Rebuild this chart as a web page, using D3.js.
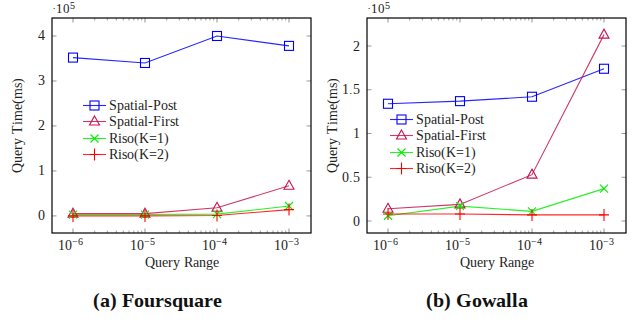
<!DOCTYPE html>
<html>
<head>
<meta charset="utf-8">
<script src="https://cdn.jsdelivr.net/npm/d3@7"></script>
<style>
  @font-face { font-family: "ChartSerif"; font-weight: 400; src: local("Liberation Serif"), local("LiberationSerif"), local("Liberation Serif Regular"), local("LiberationSerif-Regular"); }
  @font-face { font-family: "ChartSerif"; font-weight: 700; src: local("Liberation Serif Bold"), local("LiberationSerif-Bold"); }
  body { margin: 0; background: #fff; }
  .lbl { font-family: "ChartSerif", "Liberation Serif", "Times New Roman", serif; }
</style>
</head>
<body>
<svg id="chart" width="641" height="320"></svg>
<script>
// query ranges (x), shared by both panels
var ranges = [1e-6, 1e-5, 1e-4, 1e-3];
var seriesNames = ["Spatial-Post", "Spatial-First", "Riso(K=1)", "Riso(K=2)"];

// Foursquare, values in 10^5 ms
var fsqPost  = [3.52, 3.40, 4.00, 3.78];
var fsqFirst = [0.05, 0.05, 0.18, 0.67];
var fsqK1    = [0.03, 0.03, 0.04, 0.22];
var fsqK2    = [0.00, 0.00, 0.01, 0.14];
var fsqTicks = [0, 1, 2, 3, 4];

// Gowalla, values in 10^5 ms
var gwPost  = [1.34, 1.37, 1.42, 1.74];
var gwFirst = [0.14, 0.19, 0.53, 2.13];
var gwK1    = [0.06, 0.17, 0.11, 0.37];
var gwK2    = [0.08, 0.08, 0.07, 0.07];
var gwTicks = [0, 0.5, 1, 1.5, 2];

var colors = ["#0000ff", "#c8144e", "#00ee00", "#ff0000"];
var markers = ["square", "triangle", "cross", "plus"];

var svg = d3.select("#chart");

function drawMarker(g, type, color) {
  if (type == "square") {
    g.append("rect").attr("x", -4.5).attr("y", -4.5).attr("width", 9).attr("height", 9)
      .attr("fill", "none").attr("stroke", color).attr("stroke-width", 1.1);
  } else if (type == "triangle") {
    g.append("path").attr("d", "M0,-5.5L5,3.5L-5,3.5Z")
      .attr("fill", "none").attr("stroke", color).attr("stroke-width", 1.1);
  } else if (type == "cross") {
    g.append("path").attr("d", "M-4,-4L4,4M-4,4L4,-4")
      .attr("stroke", color).attr("stroke-width", 1.1);
  } else {
    g.append("path").attr("d", "M-5,0L5,0M0,-6L0,6")
      .attr("stroke", color).attr("stroke-width", 1.1);
  }
}

function label(sel, size) {
  return sel.attr("class", "lbl").style("font-size", size + "px").attr("fill", "#222");
}

function drawPanel(opt) {
  var g = svg.append("g");
  var x = d3.scaleLog()
    .domain([1e-6 / Math.pow(10, 21 / 72), 1e-3 * Math.pow(10, 22 / 72)])
    .range([opt.left, opt.right]);
  var y = d3.scaleLinear().domain(opt.ydomain).range([opt.bottom, opt.top]);

  // minor log ticks between the decades
  var minor = [];
  for (var e = -6; e < -3; e++) {
    for (var m = 2; m <= 9; m++) minor.push(m * Math.pow(10, e));
  }
  g.selectAll(".minor").data(minor).enter().append("path")
    .attr("d", function(d) {
      var px = x(d);
      return "M" + px + "," + opt.bottom + "v-2.5M" + px + "," + opt.top + "v2.5";
    })
    .attr("stroke", "#777").attr("stroke-width", 0.7);

  g.selectAll(".major").data(ranges).enter().append("path")
    .attr("d", function(d) {
      var px = x(d);
      return "M" + px + "," + opt.bottom + "v-4.5M" + px + "," + opt.top + "v4.5";
    })
    .attr("stroke", "#777").attr("stroke-width", 0.8);

  g.selectAll(".yt").data(opt.yticks).enter().append("path")
    .attr("d", function(d) {
      var py = y(d);
      return "M" + opt.left + "," + py + "h4.5M" + opt.right + "," + py + "h-4.5";
    })
    .attr("stroke", "#999").attr("stroke-width", 1);

  // x tick labels
  var xl = label(g.selectAll(".xl").data(ranges).enter().append("text"), 14)
    .attr("x", function(d) { return x(d) - 3; })
    .attr("y", opt.bottom + 17)
    .attr("text-anchor", "middle");
  xl.append("tspan").text("10");
  xl.append("tspan").attr("dy", -5).style("font-size", "10px")
    .text(function(d) { return "\u2212" + Math.round(-Math.log10(d)); });

  // y tick labels
  label(g.selectAll(".yl").data(opt.yticks).enter().append("text"), 14)
    .attr("x", opt.left - 7)
    .attr("y", function(d) { return y(d) + 4.5; })
    .attr("text-anchor", "end")
    .text(function(d) { return d; });

  // scale factor
  var sf = label(g.append("text"), 13).attr("x", opt.left).attr("y", 13);
  sf.append("tspan").text("\u00b710");
  sf.append("tspan").attr("dy", -4).style("font-size", "10px").text("5");

  // series
  var line = d3.line()
    .x(function(d, i) { return x(ranges[i]); })
    .y(function(d) { return y(d); });

  opt.series.forEach(function(vals, k) {
    g.append("path").datum(vals).attr("d", line)
      .attr("fill", "none").attr("stroke", colors[k]).attr("stroke-width", 1.1)
      .attr("stroke-opacity", 0.85);
  });
  opt.series.forEach(function(vals, k) {
    g.selectAll(".m" + k).data(vals).enter().append("g")
      .attr("transform", function(d, i) { return "translate(" + x(ranges[i]) + "," + y(d) + ")"; })
      .each(function() { drawMarker(d3.select(this), markers[k], colors[k]); });
  });

  // frame
  g.append("rect").attr("x", opt.left).attr("y", opt.top)
    .attr("width", opt.right - opt.left).attr("height", opt.bottom - opt.top)
    .attr("fill", "none").attr("stroke", "#000").attr("stroke-width", 1.2);

  // legend
  var lg = g.selectAll(".lg").data(seriesNames).enter().append("g")
    .attr("transform", function(d, i) { return "translate(" + opt.legX + "," + Math.round(opt.legY + i * 16.3) + ")"; });
  lg.append("path").attr("d", "M0,0.5h23")
    .attr("stroke", function(d, i) { return colors[i]; })
    .attr("stroke-width", 1.1).attr("stroke-opacity", 0.85);
  lg.each(function(d, i) {
    var m = d3.select(this).append("g").attr("transform", "translate(11.5,0.5)");
    drawMarker(m, markers[i], colors[i]);
  });
  label(lg.append("text"), 14).attr("x", 26).attr("y", 5)
    .text(function(d) { return d; });

  // axis titles
  label(g.append("text"), 14)
    .attr("transform", "translate(" + opt.ylabX + "," + ((opt.top + opt.bottom) / 2) + ") rotate(-90)")
    .attr("text-anchor", "middle")
    .text("Query Time(ms)");
  label(g.append("text"), 14)
    .attr("x", (opt.left + opt.right) / 2).attr("y", opt.bottom + 34)
    .attr("text-anchor", "middle")
    .text("Query Range");

  // caption
  label(g.append("text"), 20).attr("x", opt.capX).attr("y", 307)
    .attr("text-anchor", "middle")
    .style("font-weight", "700")
    .attr("fill", "#111")
    .text(opt.caption);
}

drawPanel({
  left: 52, right: 311, top: 18, bottom: 233,
  ydomain: [-0.38, 4.4], yticks: fsqTicks,
  series: [fsqPost, fsqFirst, fsqK1, fsqK2],
  legX: 83, legY: 105, ylabX: 22, capX: 157,
  caption: "(a) Foursquare"
});

drawPanel({
  left: 367, right: 626, top: 18, bottom: 233,
  ydomain: [-0.137, 2.32], yticks: gwTicks,
  series: [gwPost, gwFirst, gwK1, gwK2],
  legX: 390, legY: 119, ylabX: 337, capX: 477,
  caption: "(b) Gowalla"
});
</script>
</body>
</html>
